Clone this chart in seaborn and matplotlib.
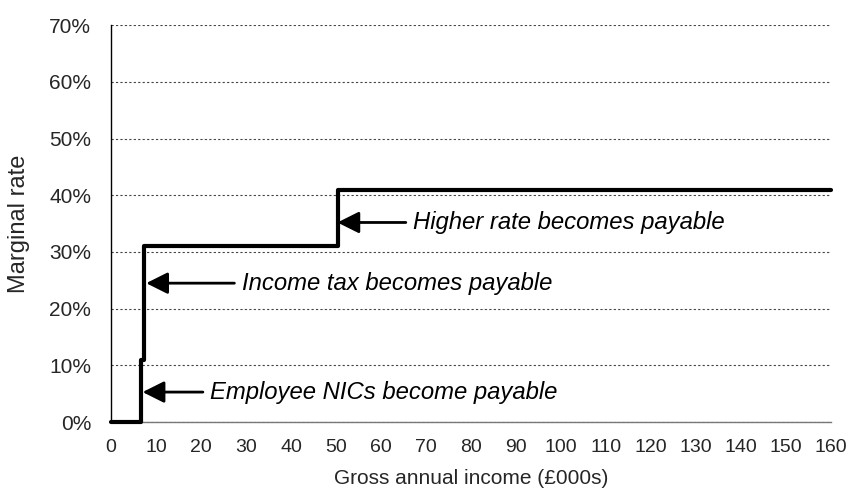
import seaborn as sns
import matplotlib.pyplot as plt
import pandas as pd
from matplotlib.ticker import FuncFormatter

# step points of the marginal rate schedule (income in £000s, rate in %)
income = [0, 6.7, 7.4, 50.4, 160]
rate = [0, 11, 31, 41, 41]

# annotations: arrow tip, arrow tail, label
note_labels = ['Employee NICs become payable', 'Income tax becomes payable',
               'Higher rate becomes payable']
note_tip_x = [7.0, 7.8, 50.3]
note_tail_x = [20.4, 27.4, 65.5]
note_y = [5.3, 24.5, 35.2]

x_ticks = list(range(0, 161, 10))
y_ticks = list(range(0, 71, 10))

sns.set_style('white')
plt.rcParams['font.family'] = ['Liberation Sans', 'DejaVu Sans']

fig, ax = plt.subplots(figsize=(8.48, 4.92), dpi=100)
fig.subplots_adjust(left=0.131, right=0.980, top=0.949, bottom=0.142)

df = pd.DataFrame({'income': income, 'rate': rate})
sns.lineplot(data=df, x='income', y='rate', drawstyle='steps-post',
             color='black', lw=3.0, ax=ax, clip_on=False, zorder=3)

for label, tip, tail, y in zip(note_labels, note_tip_x, note_tail_x, note_y):
    ax.annotate('', xy=(tip, y), xytext=(tail, y),
                arrowprops=dict(arrowstyle='-|>,head_length=0.6,head_width=0.3',
                                lw=2, color='black', mutation_scale=22,
                                shrinkA=0, shrinkB=0), zorder=4)
    ax.text(tail + 1.6, y, label, fontsize=17.2, style='italic',
            ha='left', va='center', color='black')

ax.set_xlim(0, 160)
ax.set_ylim(0, 70)
ax.set_xticks(x_ticks)
ax.set_yticks(y_ticks)
ax.yaxis.set_major_formatter(FuncFormatter(lambda v, _: f'{v:.0f}%'))
ax.tick_params(axis='x', labelsize=14, length=4.3, width=1,
               direction='out', color='#555555', pad=8)
ax.tick_params(axis='y', labelsize=15, length=4.3, width=1,
               direction='out', color='black', pad=10)

ax.yaxis.grid(True, linestyle=(0, (2, 2)), lw=0.8, color='#444444')
ax.set_axisbelow(True)
for s in ['top', 'right']:
    ax.spines[s].set_visible(False)
ax.spines['left'].set_color('black')
ax.spines['bottom'].set_color('#777777')
ax.spines['left'].set_linewidth(1)
ax.spines['bottom'].set_linewidth(1)

ax.set_xlabel('Gross annual income (£000s)', fontsize=15, labelpad=9)
ax.set_ylabel('Marginal rate', fontsize=17, labelpad=14)

plt.savefig('out.png', dpi=100)
plt.close()
